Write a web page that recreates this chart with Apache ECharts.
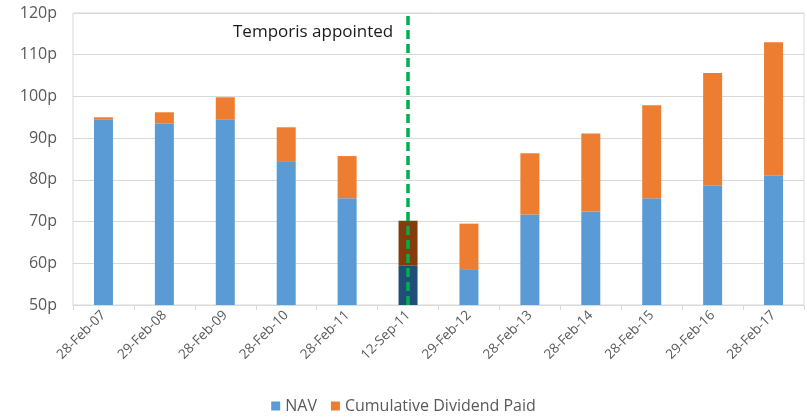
<!DOCTYPE html>
<html>
<head>
<meta charset="UTF-8">
<title>NAV and cumulative dividend</title>
<style>
  html, body, #main { margin: 0; padding: 0; width: 100%; height: 100%; background: #fff; overflow: hidden; }
</style>
</head>
<body>
<div id="main"></div>
<script src="https://cdn.jsdelivr.net/npm/echarts@6/dist/echarts.min.js"></script>
<script>
  // dates of each bar
  const categories = ['28-Feb-07', '29-Feb-08', '28-Feb-09', '28-Feb-10', '28-Feb-11', '12-Sep-11',
    '29-Feb-12', '28-Feb-13', '28-Feb-14', '28-Feb-15', '29-Feb-16', '28-Feb-17'];
  // pence
  const nav = [94.4, 93.6, 94.4, 84.3, 75.6, 59.4, 58.6, 71.7, 72.4, 75.6, 78.6, 81.0];
  const dividends = [0.6, 2.6, 5.4, 8.3, 10.1, 10.8, 10.9, 14.7, 18.7, 22.3, 27.0, 32.0];
  const appointedAt = '12-Sep-11';
  const yTicks = [50, 60, 70, 80, 90, 100, 110, 120];

  const font = '"Open Sans", "Noto Sans", sans-serif';
  const highlight = categories.indexOf(appointedAt);

  function withHighlight(values, color) {
    return values.map(function (v, i) {
      return i === highlight ? { value: v, itemStyle: { color: color } } : v;
    });
  }

  const chart = echarts.init(document.getElementById('main'));
  chart.setOption({
    animation: false,
    grid: { left: 73, right: 3, top: 13, bottom: 114, show: true, borderColor: '#d9d9d9', borderWidth: 1 },
    legend: {
      bottom: 0,
      left: 'center',
      icon: 'rect',
      itemWidth: 9,
      itemHeight: 9,
      itemGap: 14,
      textStyle: { color: '#595959', fontSize: 16, fontFamily: font }
    },
    xAxis: {
      type: 'category',
      data: categories,
      axisLine: { lineStyle: { color: '#d9d9d9' } },
      axisTick: { show: true, length: 5, lineStyle: { color: '#d9d9d9' } },
      axisLabel: { rotate: 45, color: '#595959', fontSize: 13.5, fontFamily: font, margin: 8, interval: 0 }
    },
    yAxis: {
      type: 'value',
      min: yTicks[0],
      max: yTicks[yTicks.length - 1],
      interval: 10,
      axisLine: { show: false },
      axisTick: { show: false },
      splitLine: { lineStyle: { color: '#d9d9d9', width: 1 } },
      axisLabel: { formatter: '{value}p', color: '#595959', fontSize: 16, fontFamily: font, margin: 16 }
    },
    graphic: [{
      type: 'text',
      left: 233,
      top: 24,
      style: { text: 'Temporis appointed', fill: '#1a1a1a', fontSize: 17, fontFamily: font }
    }],
    series: [
      {
        name: 'NAV',
        type: 'bar',
        stack: 'total',
        barWidth: 19,
        itemStyle: { color: '#5b9bd5' },
        data: withHighlight(nav, '#1f4e79')
      },
      {
        name: 'Cumulative Dividend Paid',
        type: 'bar',
        stack: 'total',
        barWidth: 19,
        itemStyle: { color: '#ed7d31' },
        data: withHighlight(dividends, '#843c0c'),
        markLine: {
          symbol: 'none',
          silent: true,
          label: { show: false },
          lineStyle: { color: '#00b050', width: 3.5, type: [9, 5] },
          data: [{ xAxis: appointedAt }]
        }
      }
    ]
  });
</script>
</body>
</html>
